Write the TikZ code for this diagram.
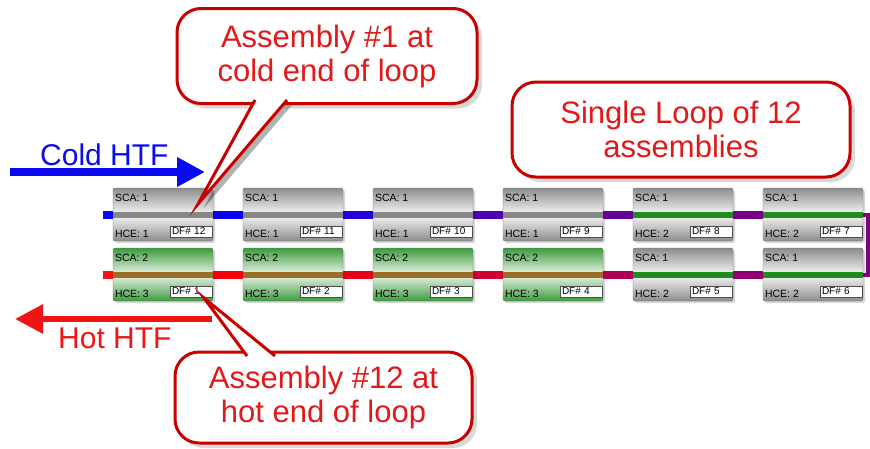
\documentclass[tikz,border=0pt]{standalone}
\usepackage{fontspec}
\setmainfont{Liberation Sans}
\usetikzlibrary{arrows.meta,shadows}
\definecolor{coldblue}{RGB}{10,10,240}
\definecolor{hotred}{RGB}{240,20,20}
\definecolor{callred}{RGB}{200,0,0}
\definecolor{calltext}{RGB}{225,25,25}
\definecolor{asmgreen}{RGB}{60,155,60}
\definecolor{hce1}{RGB}{135,135,135}
\definecolor{hce2}{RGB}{30,140,30}
\definecolor{hce3}{RGB}{155,110,40}
\tikzset{
  asm/.style={minimum width=100pt, minimum height=53pt, inner sep=0pt, draw=black!55,
    rounded corners=2pt, drop shadow={shadow xshift=2pt, shadow yshift=-2pt, opacity=0.3}},
  sca1/.style={top color=black!45, bottom color=black!45, middle color=black!3},
  sca2/.style={top color=asmgreen, bottom color=asmgreen, middle color=asmgreen!10},
  asmtag/.style={font=\fontsize{10.5}{11}\selectfont, text=black, inner sep=0pt, anchor=base west},
  dfbox/.style={draw=black!70, fill=white, font=\fontsize{10}{10}\selectfont, text width=38pt,
    inner xsep=2pt, inner ysep=0pt, minimum height=11pt, align=left, anchor=south east},
  pipe/.style={line width=8pt},
  htfarrow/.style={line width=8pt, -{Triangle[length=28pt,width=28pt]}},
  htflabel/.style={font=\fontsize{30}{30}\selectfont, inner sep=0pt, anchor=base west},
  bubble/.style={draw=callred, line width=3pt, fill=white, rounded corners=24pt, text=calltext,
    align=center, font=\fontsize{31}{34}\selectfont,
    drop shadow={shadow xshift=5pt, shadow yshift=-5pt, opacity=0.3}},
  tailshadow/.style={fill=black, opacity=0.3, shift={(5,5)}},
  bubbletail/.style={draw=callred, line width=3pt, fill=white, line join=miter},
}
\begin{document}
\begin{tikzpicture}[x=1pt,y=-1pt]
\useasboundingbox (0,0) rectangle (870,448);

% the twelve assemblies: name/x/y/SCA/HCE/DF
\foreach \n/\x/\y/\sca/\hce/\df in {
  t1/163/214.5/1/1/12, t2/293/214.5/1/1/11, t3/423/214.5/1/1/10,
  t4/553/214.5/1/1/9, t5/683/214.5/1/2/8, t6/813/214.5/1/2/7,
  b1/163/274.5/2/3/1, b2/293/274.5/2/3/2, b3/423/274.5/2/3/3,
  b4/553/274.5/2/3/4, b5/683/274.5/1/2/5, b6/813/274.5/1/2/6}{
  \node[asm, sca\sca] (\n) at (\x,\y) {};
  \fill[fill=hce\hce] ([yshift=3pt]\n.west) rectangle ([yshift=-3pt]\n.east);
  \node[asmtag] at ([xshift=2pt,yshift=-14pt]\n.north west) {SCA: \sca};
  \node[asmtag] at ([xshift=2pt,yshift=4pt]\n.south west) {HCE: \hce};
  \node[dfbox] at ([xshift=-1pt,yshift=4pt]\n.south east) {DF\# \df};
}

% loop piping, cold (blue) to hot (red)
\coordinate (cin) at (103,214.5);
\coordinate (hout) at (103,274.5);
\draw[pipe, draw=coldblue] (cin) -- (t1.west);
\foreach \a/\b/\p in {t1/t2/5, t2/t3/15, t3/t4/30, t4/t5/40, t5/t6/47}
  \draw[pipe, draw=red!\p!blue] (\a.east) -- (\b.west);
\draw[line width=4pt, draw=red!50!blue] (t6.east) -- ++(5,0) |- (b6.east);
\foreach \a/\b/\p in {b6/b5/57, b5/b4/67, b4/b3/80, b3/b2/90, b2/b1/96}
  \draw[pipe, draw=red!\p!blue] (\a.west) -- (\b.east);
\draw[pipe, draw=hotred] (b1.west) -- (hout);

% HTF in and out
\coordinate (coldstart) at (10,172);
\coordinate (coldend) at (205,172);
\draw[htfarrow, coldblue] (coldstart) -- (coldend);
\node[htflabel, text=coldblue] (coldlbl) at (40,165) {Cold HTF};
\coordinate (hotstart) at (212,319);
\coordinate (hotend) at (15,319);
\draw[htfarrow, line width=6pt, hotred] (hotstart) -- (hotend);
\node[htflabel, text=hotred] (hotlbl) at (58,348) {Hot HTF};

% callouts
\fill[tailshadow] (255,100) -- (198,204) -- (287,100) -- cycle;
\fill[tailshadow] (247,356) -- (204,298) -- (275,356) -- cycle;
\node[bubble, minimum width=300pt, minimum height=95pt] (c1) at (327,56)
  {Assembly \#1 at\\cold end of loop};
\node[bubble, minimum width=297pt, minimum height=91pt] (c12) at (323.5,397.5)
  {Assembly \#12 at\\hot end of loop};
\node[bubble, minimum width=338pt, minimum height=95pt] (c0) at (681,129.5)
  {Single Loop of 12\\assemblies};
\path[bubbletail] (255,100) -- (198,204) -- (287,100);
\path[bubbletail] (247,356) -- (204,298) -- (275,356);
\end{tikzpicture}
\end{document}
